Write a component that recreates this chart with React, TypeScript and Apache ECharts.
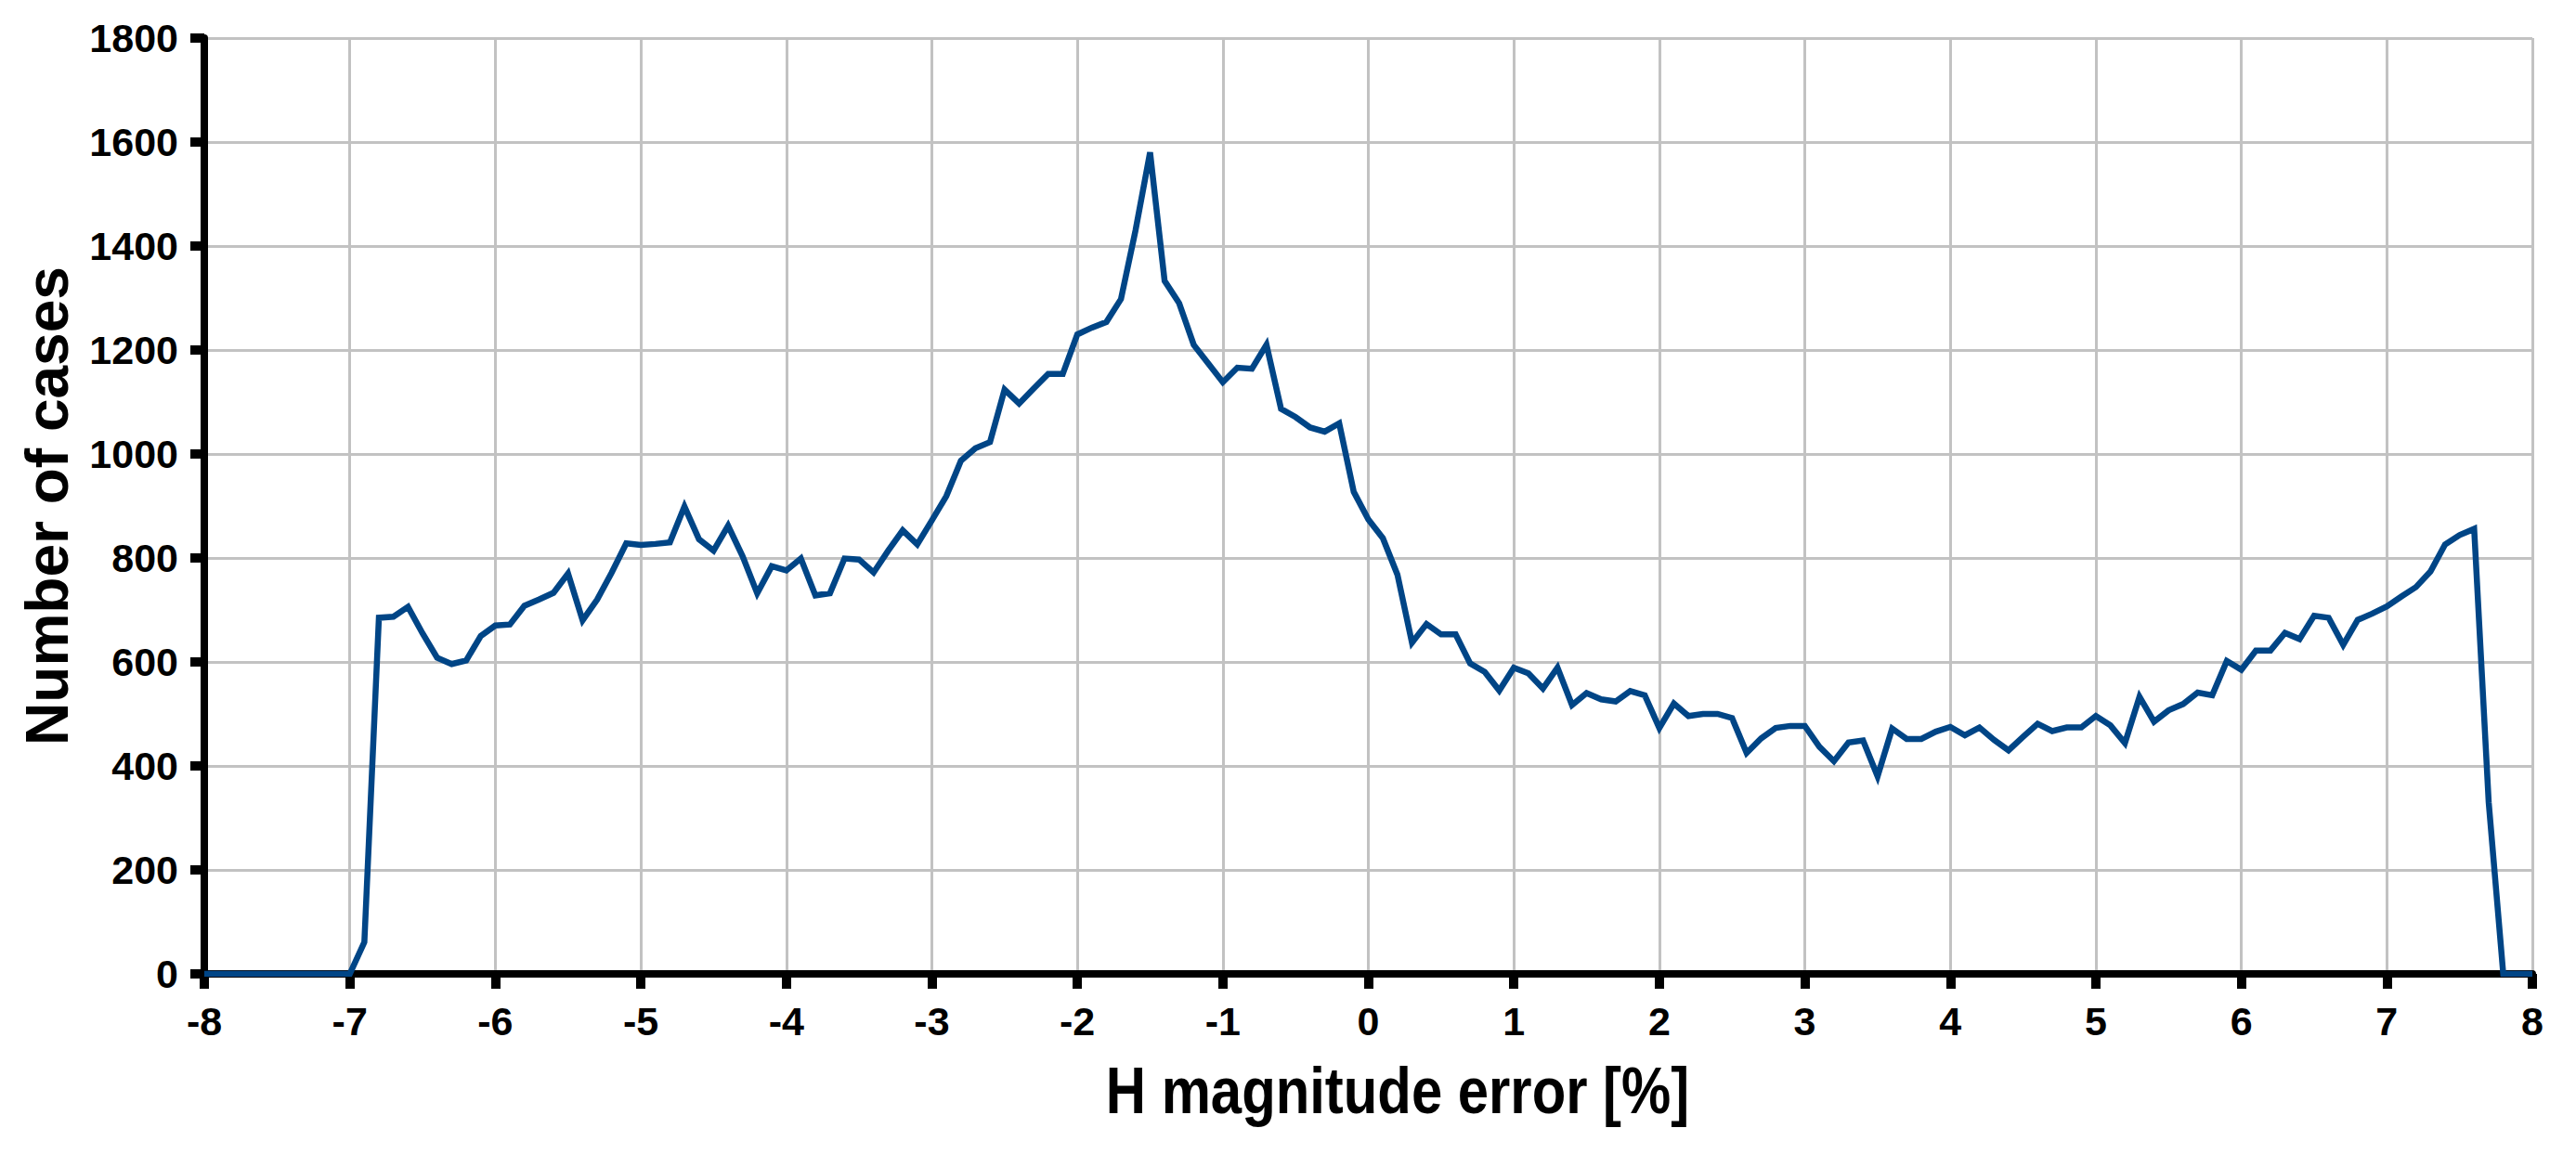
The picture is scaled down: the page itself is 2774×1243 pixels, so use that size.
import React, { useEffect, useRef } from "react";
import * as echarts from "echarts";

// H magnitude error [%], from -8 to 8 in steps of 0.1
const X_START = -8;
const X_STEP = 0.1;

// Number of cases (one row per unit of x)
const casesFromMinus8 = [0, 0, 0, 0, 0, 0, 0, 0, 0, 0]; // -8.0 .. -7.1
const casesFromMinus7 = [0, 61, 685, 687, 706, 655, 608, 596, 603, 650]; // -7.0 .. -6.1
const casesFromMinus6 = [670, 672, 708, 720, 733, 770, 680, 720, 772, 828];
const casesFromMinus5 = [825, 827, 830, 899, 836, 814, 862, 803, 732, 784];
const casesFromMinus4 = [776, 799, 728, 732, 799, 797, 772, 814, 853, 826];
const casesFromMinus3 = [872, 919, 987, 1011, 1023, 1124, 1097, 1126, 1154, 1154];
const casesFromMinus2 = [1230, 1243, 1254, 1298, 1430, 1580, 1333, 1290, 1210, 1174];
const casesFromMinus1 = [1138, 1166, 1164, 1210, 1087, 1071, 1051, 1043, 1059, 927];
const casesFrom0 = [874, 838, 768, 637, 673, 653, 653, 597, 581, 545];
const casesFrom1 = [589, 578, 549, 589, 517, 540, 528, 524, 544, 536];
const casesFrom2 = [473, 520, 496, 500, 500, 492, 425, 453, 473, 477];
const casesFrom3 = [477, 437, 409, 445, 449, 380, 472, 452, 452, 466];
const casesFrom4 = [475, 459, 474, 450, 430, 456, 481, 467, 474, 474];
const casesFrom5 = [496, 478, 444, 533, 485, 507, 519, 541, 536, 602];
const casesFrom6 = [585, 622, 622, 656, 644, 689, 685, 633, 681, 693];
const casesFrom7 = [707, 726, 744, 774, 826, 844, 856, 330, 0, 0];
const casesAt8 = [0];

const cases = [
  ...casesFromMinus8,
  ...casesFromMinus7,
  ...casesFromMinus6,
  ...casesFromMinus5,
  ...casesFromMinus4,
  ...casesFromMinus3,
  ...casesFromMinus2,
  ...casesFromMinus1,
  ...casesFrom0,
  ...casesFrom1,
  ...casesFrom2,
  ...casesFrom3,
  ...casesFrom4,
  ...casesFrom5,
  ...casesFrom6,
  ...casesFrom7,
  ...casesAt8,
];

const X_MIN = -8;
const X_MAX = 8;
const X_INTERVAL = 1;
const Y_MIN = 0;
const Y_MAX = 1800;
const Y_INTERVAL = 200;

const X_TITLE = "H magnitude error [%]";
const Y_TITLE = "Number of cases";

export default function App() {
  const ref = useRef<HTMLDivElement>(null);

  useEffect(() => {
    if (!ref.current) return;
    const chart = echarts.init(ref.current, undefined, { renderer: "svg" });
    const data = cases.map((v, i) => [
      Math.round((X_START + i * X_STEP) * 10) / 10,
      v,
    ]);
    const labelFont = {
      fontFamily: "Liberation Sans",
      fontWeight: "bold" as const,
      fontSize: 43,
      color: "#000",
    };
    const axisLineStyle = { color: "#000", width: 8 };
    const gridStyle = { color: "#c2c2c2", width: 3 };
    chart.setOption({
      animation: false,
      backgroundColor: "#ffffff",
      grid: { left: 220, right: 47, top: 41, bottom: 194, containLabel: false },
      xAxis: {
        type: "value",
        min: X_MIN,
        max: X_MAX,
        interval: X_INTERVAL,
        axisLine: { show: true, onZero: false, lineStyle: axisLineStyle },
        axisTick: { show: true, inside: false, length: 16, lineStyle: { color: "#000", width: 10 } },
        axisLabel: { ...labelFont, margin: 29, formatter: (v: number) => String(v) },
        splitLine: { show: true, lineStyle: gridStyle },
      },
      yAxis: {
        type: "value",
        min: Y_MIN,
        max: Y_MAX,
        interval: Y_INTERVAL,
        name: Y_TITLE,
        nameLocation: "middle",
        nameRotate: 90,
        nameGap: 137,
        nameTextStyle: {
          fontFamily: "Liberation Sans",
          fontWeight: "bold",
          fontSize: 64,
          color: "#000",
        },
        axisLine: { show: true, onZero: false, lineStyle: axisLineStyle },
        axisTick: { show: true, inside: false, length: 15, lineStyle: { color: "#000", width: 10 } },
        axisLabel: { ...labelFont, margin: 28, formatter: (v: number) => String(v) },
        splitLine: { show: true, lineStyle: gridStyle },
      },
      graphic: [
        {
          type: "text",
          x: 1505,
          y: 1175,
          scaleX: 0.855,
          z: 10,
          style: {
            text: X_TITLE,
            fontFamily: "Liberation Sans",
            fontWeight: "bold",
            fontSize: 70,
            fill: "#000",
            textAlign: "center",
            textVerticalAlign: "middle",
            verticalAlign: "middle",
          },
        },
      ],
      series: [
        {
          type: "line",
          data,
          showSymbol: false,
          symbol: "none",
          lineStyle: { color: "#004586", width: 6.5, join: "miter" },
          itemStyle: { color: "#004586" },
          z: 5,
        },
      ],
    });
    return () => chart.dispose();
  }, []);

  return (
    <div
      ref={ref}
      style={{ position: "fixed", left: 0, top: 0, width: 2774, height: 1243, background: "#fff" }}
    />
  );
}
